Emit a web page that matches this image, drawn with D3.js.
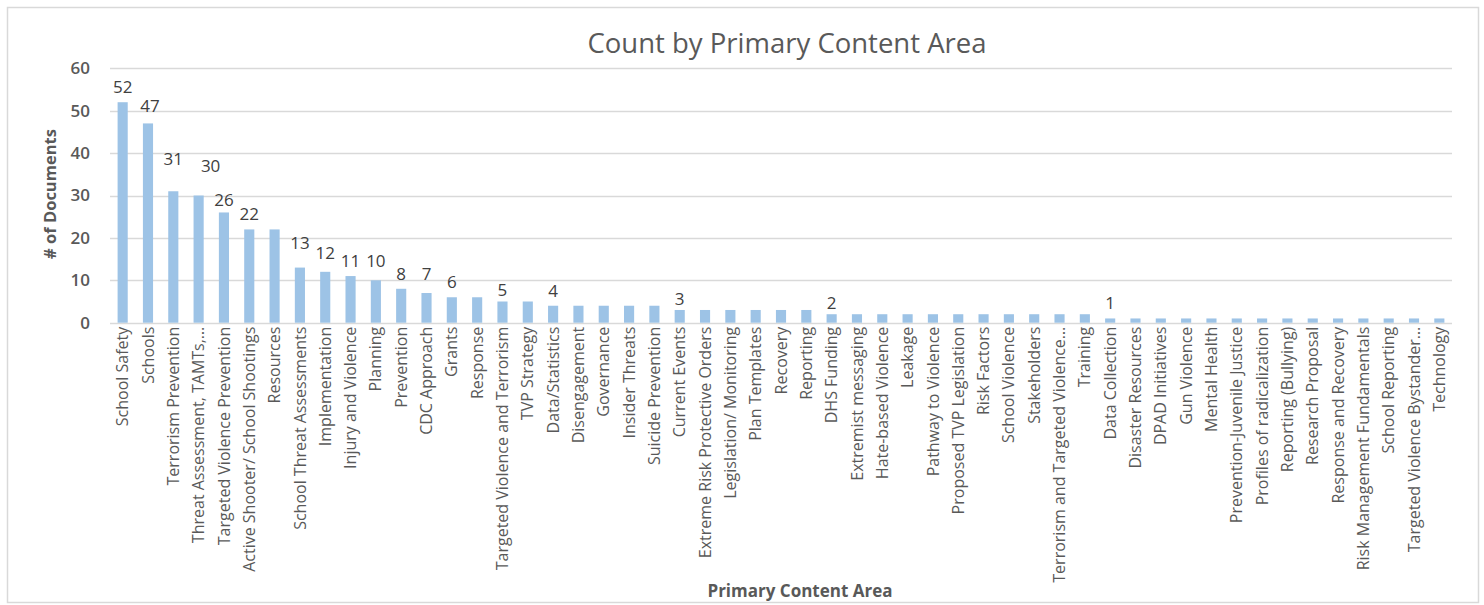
<!DOCTYPE html>
<html>
<head>
<meta charset="utf-8">
<script src="https://cdn.jsdelivr.net/npm/d3@7"></script>
<style>
  html, body { margin: 0; padding: 0; background: #fff; }
  svg { display: block; font-family: "Open Sans", "Noto Sans", sans-serif; }
</style>
</head>
<body>
<svg id="chart" width="1484" height="605"></svg>
<script>
const categories = [
  "School Safety", "Schools", "Terrorism Prevention", "Threat Assessment, TAMTs,…",
  "Targeted Violence Prevention", "Active Shooter/ School Shootings", "Resources",
  "School Threat Assessments", "Implementation", "Injury and Violence", "Planning",
  "Prevention", "CDC Approach", "Grants", "Response", "Targeted Violence and Terrorism",
  "TVP Strategy", "Data/Statistics", "Disengagement", "Governance", "Insider Threats",
  "Suicide Prevention", "Current Events", "Extreme Risk Protective Orders",
  "Legislation/ Monitoring", "Plan Templates", "Recovery", "Reporting", "DHS Funding",
  "Extremist messaging", "Hate-based Violence", "Leakage", "Pathway to Violence",
  "Proposed TVP Legislation", "Risk Factors", "School Violence", "Stakeholders",
  "Terrorism and Targeted Violence…", "Training", "Data Collection", "Disaster Resources",
  "DPAD Initiatives", "Gun Violence", "Mental Health", "Prevention-Juvenile Justice",
  "Profiles of radicalization", "Reporting (Bullying)", "Research Proposal",
  "Response and Recovery", "Risk Management Fundamentals", "School Reporting",
  "Targeted Violence Bystander…", "Technology"
];
const counts = [
  52, 47, 31, 30, 26, 22, 22, 13, 12, 11, 10, 8, 7, 6, 6, 5, 5, 4, 4, 4, 4, 4,
  3, 3, 3, 3, 3, 3, 2, 2, 2, 2, 2, 2, 2, 2, 2, 2, 2,
  1, 1, 1, 1, 1, 1, 1, 1, 1, 1, 1, 1, 1, 1
];
// Data labels shown in the reference (only on the first bar of each value)
const shownLabels = [
  "School Safety", "Schools", "Terrorism Prevention", "Threat Assessment, TAMTs,…",
  "Targeted Violence Prevention", "Active Shooter/ School Shootings",
  "School Threat Assessments", "Implementation", "Injury and Violence", "Planning",
  "Prevention", "CDC Approach", "Grants", "Targeted Violence and Terrorism",
  "Data/Statistics", "Current Events", "DHS Funding", "Data Collection"
];
const yTicks = [0, 10, 20, 30, 40, 50, 60];
const title = "Count by Primary Content Area";
const yTitle = "# of Documents";
const xTitle = "Primary Content Area";

// layout-only nudges for a few data labels that were moved in the original
const labelNudges = {
  "Schools": [2, -2],
  "Terrorism Prevention": [0, -17],
  "Threat Assessment, TAMTs,…": [12, -15],
  "Targeted Violence Prevention": [0, 3],
  "School Threat Assessments": [0, -10],
  "Implementation": [0, -4],
  "Planning": [0, -4],
  "CDC Approach": [0, -4],
  "Targeted Violence and Terrorism": [0, 3],
  "Current Events": [0, 4],
  "DHS Funding": [0, 4]
};

const data = categories.map((c, i) => ({ cat: c, value: counts[i] }));

const svg = d3.select("#chart");
const textColor = "#595959";

// chart border
svg.append("rect")
  .attr("x", 7.5).attr("y", 7.5)
  .attr("width", 1471).attr("height", 595)
  .attr("fill", "#fff").attr("stroke", "#d9d9d9").attr("stroke-width", 1.5);

const x = d3.scaleBand()
  .domain(categories)
  .range([110, 1452])
  .paddingInner(0.6)
  .paddingOuter(0.3);

const y = d3.scaleLinear()
  .domain([0, 60])
  .range([322.7, 68.3]);

// gridlines
svg.append("g")
  .selectAll("line")
  .data(yTicks)
  .join("line")
  .attr("x1", 110).attr("x2", 1452)
  .attr("y1", d => Math.round(y(d)) + 0.5)
  .attr("y2", d => Math.round(y(d)) + 0.5)
  .attr("stroke", "#d9d9d9").attr("stroke-width", 1.3);

// y axis labels
const yAxis = d3.axisLeft(y).tickValues(yTicks).tickSize(0).tickPadding(0);
const gy = svg.append("g").attr("transform", "translate(90,0)").call(yAxis);
gy.select(".domain").remove();
gy.selectAll("text")
  .attr("fill", textColor)
  .style("font-size", "17px")
  .style("font-weight", "600")
  .style("font-family", "'Open Sans', sans-serif");

// bars
svg.append("g")
  .selectAll("rect")
  .data(data)
  .join("rect")
  .attr("x", d => x(d.cat))
  .attr("y", d => y(d.value))
  .attr("width", x.bandwidth())
  .attr("height", d => y(0) - y(d.value))
  .attr("fill", "#9dc3e6");

// data labels
svg.append("g")
  .selectAll("text")
  .data(data.filter(d => shownLabels.includes(d.cat)))
  .join("text")
  .attr("x", d => x(d.cat) + x.bandwidth() / 2 + (labelNudges[d.cat] ? labelNudges[d.cat][0] : 0))
  .attr("y", d => y(d.value) - 9 + (labelNudges[d.cat] ? labelNudges[d.cat][1] : 0))
  .attr("text-anchor", "middle")
  .attr("fill", "#404040")
  .style("font-size", "17px")
  .text(d => d.value);

// x axis labels
const xAxis = d3.axisBottom(x).tickSize(0).tickPadding(0);
const gx = svg.append("g").attr("transform", `translate(0,${y(0)})`).call(xAxis);
gx.select(".domain").remove();
gx.selectAll("text")
  .attr("fill", textColor)
  .style("font-size", "16px")
  .style("font-family", "'Open Sans', sans-serif")
  .attr("text-anchor", "end")
  .attr("dy", "0.35em")
  .attr("transform", "translate(0,4) rotate(-90)")
  .attr("x", 0).attr("y", 0);

// title
svg.append("text")
  .attr("x", 787).attr("y", 53)
  .attr("text-anchor", "middle")
  .attr("fill", textColor)
  .style("font-size", "27.5px")
  .text(title);

// y title
svg.append("text")
  .attr("transform", "translate(56,194) rotate(-90)")
  .attr("text-anchor", "middle")
  .attr("fill", textColor)
  .style("font-size", "16.5px")
  .style("font-weight", "700")
  .text(yTitle);

// x title
svg.append("text")
  .attr("x", 800).attr("y", 597)
  .attr("text-anchor", "middle")
  .attr("fill", textColor)
  .style("font-size", "17px")
  .style("font-weight", "700")
  .text(xTitle);
</script>
</body>
</html>
